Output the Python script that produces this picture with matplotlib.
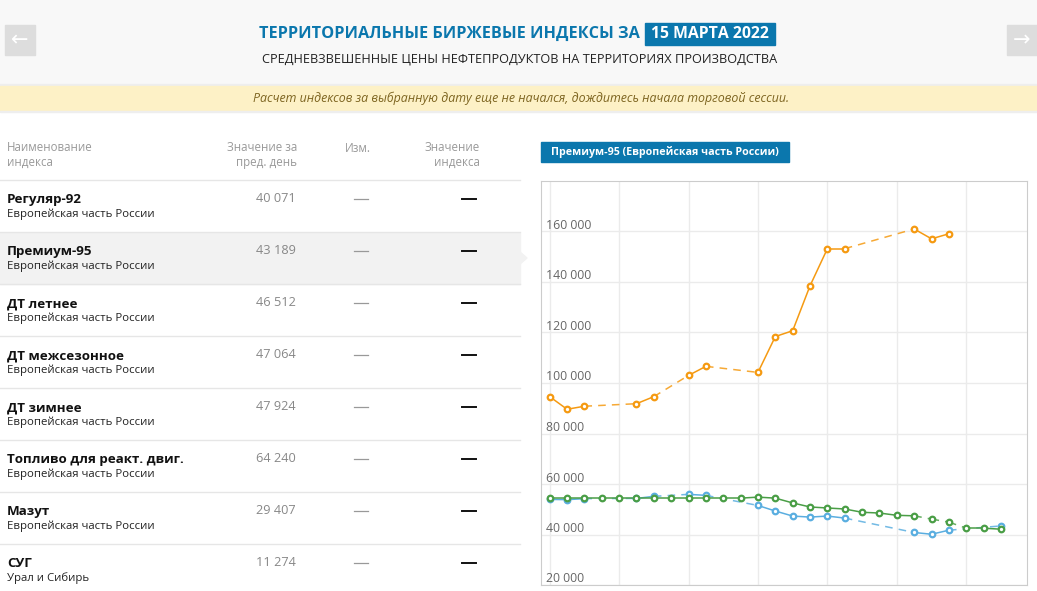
import numpy as np
import matplotlib
matplotlib.use('Agg')
import matplotlib.pyplot as plt
import matplotlib.transforms as mtransforms
from matplotlib.patches import Rectangle, Polygon

plt.rcParams['font.family'] = ['Open Sans', 'DejaVu Sans']

# ---- data ----
title_main = 'ТЕРРИТОРИАЛЬНЫЕ БИРЖЕВЫЕ ИНДЕКСЫ ЗА'
title_date = '15 МАРТА 2022'
subtitle = 'СРЕДНЕВЗВЕШЕННЫЕ ЦЕНЫ НЕФТЕПРОДУКТОВ НА ТЕРРИТОРИЯХ ПРОИЗВОДСТВА'
notice = 'Расчет индексов за выбранную дату еще не начался, дождитесь начала торговой сессии.'
chart_label = 'Премиум-95 (Европейская часть России)'

col_headers = ['Наименование\nиндекса', 'Значение за\nпред. день', 'Изм.', 'Значение\nиндекса']
index_names = ['Регуляр-92', 'Премиум-95', 'ДТ летнее', 'ДТ межсезонное', 'ДТ зимнее',
               'Топливо для реакт. двиг.', 'Мазут', 'СУГ']
index_regions = ['Европейская часть России'] * 7 + ['Урал и Сибирь']
prev_values = [40071, 43189, 46512, 47064, 47924, 64240, 29407, 11274]
selected_row = 1

days = np.arange(27)
N = None
orange_vals = [94600, 89600, 90800, N, N, 91800, 94600, N, 103000, 106600, N, N,
               104200, 118400, 120700, 138500, 153200, 153200, N, N, N,
               161000, 157100, 159100, N, N, N]
blue_vals = [53900, 53800, 54200, N, N, 54300, 55100, N, 55900, 55500, N, N,
             51500, 49300, 47300, 46900, 47300, 46500, N, N, N,
             40800, 40100, 41700, N, N, 43400]
green_vals = [54400, 54400, 54400, 54400, 54400, 54400, 54400, 54400, 54400, 54400, 54400, 54400,
              54800, 54400, 52500, 50900, 50500, 50100, 48800, 48500, 47600,
              47400, 46100, 44900, 42500, 42500, 42100]
green_dashed_from = [21, 22, 23]

yticks = [20000, 40000, 60000, 80000, 100000, 120000, 140000, 160000]

# ---- page ----
W, H = 1037, 591
fig = plt.figure(figsize=(W / 100, H / 100), dpi=100)
fig.patch.set_facecolor('white')
bg = fig.add_axes([0, 0, 1, 1])
bg.set_xlim(0, W)
bg.set_ylim(H, 0)
bg.axis('off')

BLUE = '#0b77ad'
bg.add_patch(Rectangle((0, 0), W, 84, color='#f8f8f8', zorder=0))
bg.add_patch(Rectangle((0, 84), W, 2, color='#eeeeee', zorder=0))
bg.add_patch(Rectangle((0, 86), W, 25, color='#fdf1c6', zorder=0))
bg.add_patch(Rectangle((0, 111), W, 1, color='#eeeeee', zorder=0))

# arrows
for x0, arrow in [(5, '←'), (1007, '→')]:
    bg.add_patch(Rectangle((x0, 25), 30, 30, color='#dddddd', zorder=1))
    bg.text(x0 + 15, 40, arrow, color='white', fontsize=15, ha='center', va='center',
            family=['DejaVu Sans'], zorder=2)

bg.text(640, 34, title_main, color=BLUE, fontsize=11.7, fontweight='bold',
        ha='right', va='center')
bg.add_patch(Rectangle((645, 23), 130, 22, color=BLUE, zorder=1))
bg.text(710, 34, title_date, color='white', fontsize=11.3, fontweight='bold',
        ha='center', va='center', zorder=2)
bg.text(520, 59, subtitle, color='#222222', fontsize=9.2, ha='center', va='center')
bg.text(521, 98, notice, color='#7d6420', fontsize=8.9, style='italic',
        ha='center', va='center')

# ---- table ----
GRAY = '#999999'
bg.text(7, 155, col_headers[0], color=GRAY, fontsize=8.3, ha='left', va='center',
        linespacing=1.15)
bg.text(297, 155, col_headers[1], color=GRAY, fontsize=8.3, ha='right', va='center',
        linespacing=1.15)
bg.text(358, 148, col_headers[2], color=GRAY, fontsize=8.3, ha='center', va='center')
bg.text(480, 155, col_headers[3], color=GRAY, fontsize=8.3, ha='right', va='center',
        linespacing=1.15)

row_h = 52
top = 180
bg.plot([0, 520], [top, top], color='#e6e6e6', lw=1)
for i, (name, region, val) in enumerate(zip(index_names, index_regions, prev_values)):
    y0 = top + i * row_h
    if i == selected_row:
        bg.add_patch(Rectangle((0, y0 + 1), 520, row_h - 1, color='#f2f2f2', zorder=0))
        bg.add_patch(Polygon([[520, y0 + 20], [527, y0 + 26], [520, y0 + 32]],
                             closed=True, color='#f2f2f2', zorder=0))
    bg.text(7, y0 + 19.5, name, color='#111111', fontsize=9.6, fontweight='bold',
            ha='left', va='center')
    bg.text(7, y0 + 34.5, region, color='#222222', fontsize=8.2, ha='left', va='center')
    bg.text(296, y0 + 19, f'{val:,}'.replace(',', ' '), color='#888888', fontsize=9.2,
            ha='right', va='center')
    bg.plot([354, 368], [y0 + 19, y0 + 19], color='#999999', lw=0.9)
    bg.plot([462, 476], [y0 + 19, y0 + 19], color='#111111', lw=1.4)
    if i < len(index_names) - 1:
        bg.plot([0, 520], [y0 + row_h, y0 + row_h], color='#e6e6e6', lw=1)

# ---- chart ----
bg.add_patch(Rectangle((541, 142), 248, 20, color=BLUE, zorder=1))
bg.text(665, 152, chart_label, color='white', fontsize=7.7, fontweight='bold',
        ha='center', va='center', zorder=2)

cx0, cy0, cx1, cy1 = 541, 181, 1027, 585
ax = fig.add_axes([cx0 / W, (H - cy1) / H, (cx1 - cx0) / W, (cy1 - cy0) / H])
ax.set_xlim(-0.5, 27.5)
ax.set_ylim(20000, 180000)
ax.set_xticks(np.arange(0, 27, 4))
ax.set_yticks(yticks)
ax.tick_params(length=0, labelbottom=False, labelleft=False)
ax.grid(True, color='#ebebeb', lw=1)
ax.set_axisbelow(True)
for s in ax.spines.values():
    s.set_color('#cccccc')

blend = mtransforms.blended_transform_factory(ax.transAxes, ax.transData)
for v in yticks:
    ax.annotate(f'{v:,}'.replace(',', ' '), xy=(0, v), xycoords=blend, xytext=(5, 6),
                textcoords='offset pixels', color='#666666', fontsize=8.8,
                ha='left', va='center')


def draw_series(vals, color, dashed_from=()):
    pts = [(d, v) for d, v in zip(days, vals) if v is not None]
    for (xa, ya), (xb, yb) in zip(pts[:-1], pts[1:]):
        if xb - xa == 1 and xa not in dashed_from:
            ax.plot([xa, xb], [ya, yb], color=color, lw=1.1, zorder=3)
        else:
            ax.plot([xa, xb], [ya, yb], color=color, lw=1.1, dashes=(5, 4),
                    alpha=0.85, zorder=3)
    ax.plot([p[0] for p in pts], [p[1] for p in pts], 'o', ms=4, mfc='white',
            mec=color, mew=1.6, zorder=4)


draw_series(orange_vals, '#f59a12')
draw_series(blue_vals, '#5aaee0')
draw_series(green_vals, '#4a9e46', green_dashed_from)

fig.savefig('out.png', dpi=100)
